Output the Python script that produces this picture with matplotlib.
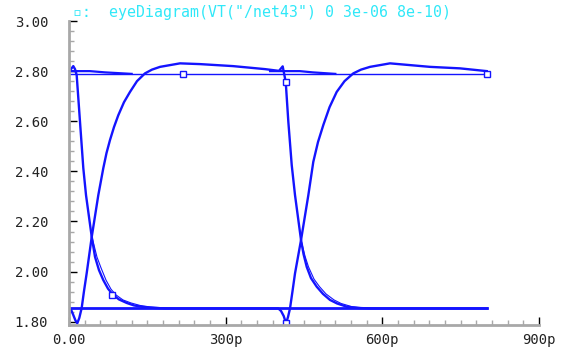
import matplotlib.pyplot as plt
import numpy as np

# picoseconds / volts
# trace A: rising edge near 0p, falling edge near 400p
a_t = [0, 3.8, 8.2, 12.4, 15.9, 19.7, 24.3, 28.7, 33.9, 43.5, 56.1, 65.7, 71.8, 78.5,
       86.2, 94.4, 105.3, 116.8, 130.2, 145.5, 158.9, 174.3, 193.4, 212.6, 250.9,
       314.1, 375.3, 402.1, 409.2, 415.0, 420.0, 426.5, 432.8, 444.3, 449.1, 455.2,
       463.4, 474.3, 486.4, 499.8, 513.2, 531.8, 553.4, 576.4, 800]
a_v = [1.853, 1.849, 1.827, 1.805, 1.794, 1.815, 1.855, 1.922, 1.994, 2.138, 2.305,
       2.413, 2.473, 2.525, 2.577, 2.624, 2.676, 2.717, 2.760, 2.791, 2.806, 2.817,
       2.824, 2.831, 2.828, 2.820, 2.808, 2.801, 2.819, 2.757, 2.598, 2.425, 2.305,
       2.126, 2.070, 2.019, 1.974, 1.940, 1.911, 1.887, 1.873, 1.860, 1.855, 1.853,
       1.853]

# trace B: falling edge near 0p, rising edge near 400p
b_t = [0, 3.8, 8.2, 11.5, 14.7, 21.1, 27.4, 32.6, 43.5, 49.8, 57.4, 65.7, 74.7, 84.3,
       95.7, 110.5, 124.5, 141.7, 164.7, 183.8, 400.8, 406, 411.1, 415.6, 419.4,
       423.2, 428, 432.8, 444.3, 458.3, 467.8, 476.8, 487, 498.9, 512.6, 527.6,
       544.4, 559.2, 576.4, 595.6, 614.7, 691.3, 748.8, 800]
b_v = [2.800, 2.808, 2.820, 2.808, 2.784, 2.597, 2.413, 2.305, 2.139, 2.059, 2.006,
       1.966, 1.932, 1.907, 1.889, 1.875, 1.865, 1.859, 1.855, 1.853, 1.853, 1.843,
       1.823, 1.794, 1.819, 1.853, 1.922, 1.993, 2.126, 2.305, 2.438, 2.517, 2.585,
       2.656, 2.717, 2.760, 2.791, 2.806, 2.817, 2.824, 2.831, 2.817, 2.811, 2.800]

# second, slightly later copies of the falling tails
f1_t = [44.0, 53.6, 61.3, 70.9, 80.4, 90.0, 103.4, 118.7, 136, 155.1, 203]
f1_v = [2.138, 2.058, 2.015, 1.966, 1.930, 1.907, 1.887, 1.875, 1.865, 1.859, 1.853]
f2_t = [444.3, 451.9, 458.6, 469.2, 479.7, 492.1, 507.5, 520.9, 541.9, 566.8, 595.6]
f2_v = [2.126, 2.062, 2.019, 1.970, 1.940, 1.911, 1.887, 1.873, 1.860, 1.855, 1.853]

# steady high / low bits
hi_t = [0, 800]
hi_v = [2.788, 2.788]
hh1_t = [0, 40, 69, 120]
hh1_v = [2.800, 2.800, 2.795, 2.789]
hh2_t = [385, 442, 467, 510]
hh2_v = [2.800, 2.800, 2.795, 2.789]
lo_t = [0, 800]
lo_v = [1.853, 1.853]

mk_t = [218.3, 800, 415.0, 415.6, 82.3]
mk_v = [2.788, 2.788, 2.757, 1.794, 1.907]

blue = '#1414ff'
fig = plt.figure(figsize=(5.7, 3.51), dpi=100)
ax = fig.add_axes([69 / 570, 1 - 325 / 351, 470 / 570, 304 / 351])

ax.plot(hi_t, hi_v, color=blue, lw=1.0)
ax.plot(lo_t, lo_v, color=blue, lw=2.0)
ax.plot(hh1_t, hh1_v, color=blue, lw=1.6)
ax.plot(hh2_t, hh2_v, color=blue, lw=1.6)
ax.plot(f1_t, f1_v, color=blue, lw=0.8)
ax.plot(f2_t, f2_v, color=blue, lw=0.8)
ax.plot(a_t, a_v, color=blue, lw=1.7)
ax.plot(b_t, b_v, color=blue, lw=1.7)
ax.plot(mk_t, mk_v, ls='none', marker='s', ms=4, mfc='white', mec=blue, mew=1.0)

ax.set_xlim(0, 900)
ax.set_ylim(1.787, 3.0)
for s in ['top', 'right']:
    ax.spines[s].set_visible(False)
for s in ['left', 'bottom']:
    ax.spines[s].set_color('#a8a8a8')
    ax.spines[s].set_linewidth(2)

ax.set_xticks([0, 300, 600, 900])
ax.set_xticklabels(['0.00', '300p', '600p', '900p'])
ax.set_xticks(np.arange(0, 901, 30), minor=True)
ax.set_yticks([1.8, 2.0, 2.2, 2.4, 2.6, 2.8, 3.0])
ax.set_yticklabels(['1.80', '2.00', '2.20', '2.40', '2.60', '2.80', '3.00'])
ax.set_yticks(np.arange(1.8, 3.001, 0.04), minor=True)

ax.tick_params(which='major', direction='in', length=6, width=1, color='black',
               labelsize=10, labelcolor='#222222')
ax.tick_params(which='minor', direction='in', length=3.5, width=1, color='#a8a8a8')
ax.tick_params(axis='y', which='major', pad=15)
ax.tick_params(axis='x', which='major', pad=6)
for lab in ax.get_xticklabels() + ax.get_yticklabels():
    lab.set_fontfamily('DejaVu Sans Mono')

fig.text(73 / 570, 1 - 12 / 351, '\u25ab:  eyeDiagram(VT("/net43") 0 3e-06 8e-10)',
         color='#30e8f8', fontsize=10.7, family='DejaVu Sans Mono', va='center', ha='left')

fig.savefig('out.png', dpi=100)
